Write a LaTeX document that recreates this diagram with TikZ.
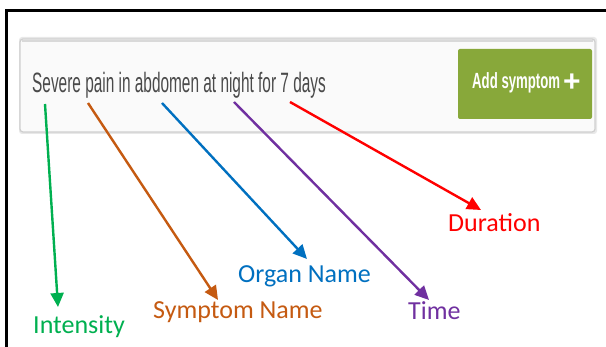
\documentclass[tikz,border=0pt]{standalone}
\usepackage{fontspec}
\usepackage{graphicx}
\setmainfont{Carlito}
\newfontfamily\uifont{Liberation Sans}
\usetikzlibrary{arrows.meta}
\definecolor{cIntensity}{HTML}{00B050}
\definecolor{cSymptom}{HTML}{C55A11}
\definecolor{cOrgan}{HTML}{0070C0}
\definecolor{cTime}{HTML}{7030A0}
\definecolor{cDuration}{HTML}{FF0000}
\definecolor{btngreen}{HTML}{88A83A}
\definecolor{uitext}{HTML}{4A4A4A}
\definecolor{boxborder}{HTML}{CFCFCF}
\tikzset{
  lbl/.style={anchor=base west, inner sep=0pt, font=\fontsize{26}{30}\selectfont},
  pointer/.style={line width=2.4pt, -{Triangle[length=14pt,width=13pt]}},
}
\begin{document}
\begin{tikzpicture}[x=1pt,y=-1pt]
\useasboundingbox (0,0) rectangle (606,347);
\fill[white] (0,0) rectangle (606,347);
% frame
\draw[line width=3pt] (608,11) -- (6,11) -- (6,349);
% search box with shadow
\fill[gray!18, rounded corners=3pt] (19,37) rectangle (597,134);
\draw[boxborder, line width=1.2pt, fill=white!98!black, rounded corners=3pt] (20,39) rectangle (595,132);
\draw[gray!30, line width=2pt] (22,41) -- (593,41);
% button
\node[fill=btngreen, rounded corners=2pt, minimum width=134pt, minimum height=70pt, inner sep=0pt] (btn) at (525,84) {};
\node[anchor=base west, inner sep=0pt, text=white] (btntext) at (472,89)
  {\scalebox{0.6}[1]{\uifont\bfseries\fontsize{22}{24}\selectfont Add symptom}};
\node[anchor=base, inner sep=0pt, text=white] (plus) at (572,92)
  {\uifont\bfseries\fontsize{30}{32}\selectfont +};
% input text
\node[anchor=base west, inner sep=0pt, text=uitext] (query) at (32,93)
  {\scalebox{0.55}[1]{\uifont\fontsize{28}{32}\selectfont Severe pain in abdomen at night for 7 days}};
% label nodes
\node[lbl, text=cIntensity] (intensity) at (33,334) {Intensity};
\node[lbl, text=cSymptom] (symptom) at (153,319) {Symptom Name};
\node[lbl, text=cOrgan] (organ) at (238,283) {Organ Name};
\node[lbl, text=cTime] (time) at (408,320) {Time};
\node[lbl, text=cDuration] (duration) at (448,232) {Duration};
% arrow endpoints
\coordinate (s1) at (45,104);
\coordinate (s2) at (88,103);
\coordinate (s3) at (162,103);
\coordinate (s4) at (234,102);
\coordinate (s5) at (290,102);
\coordinate (t1) at (58,307);
\coordinate (t2) at (218,300);
\coordinate (t3) at (307,259);
\coordinate (t4) at (429,300);
\coordinate (t5) at (481,210);
\draw[pointer, cIntensity] (s1) -- (t1);
\draw[pointer, cSymptom] (s2) -- (t2);
\draw[pointer, cOrgan] (s3) -- (t3);
\draw[pointer, cTime] (s4) -- (t4);
\draw[pointer, cDuration] (s5) -- (t5);
\end{tikzpicture}
\end{document}
